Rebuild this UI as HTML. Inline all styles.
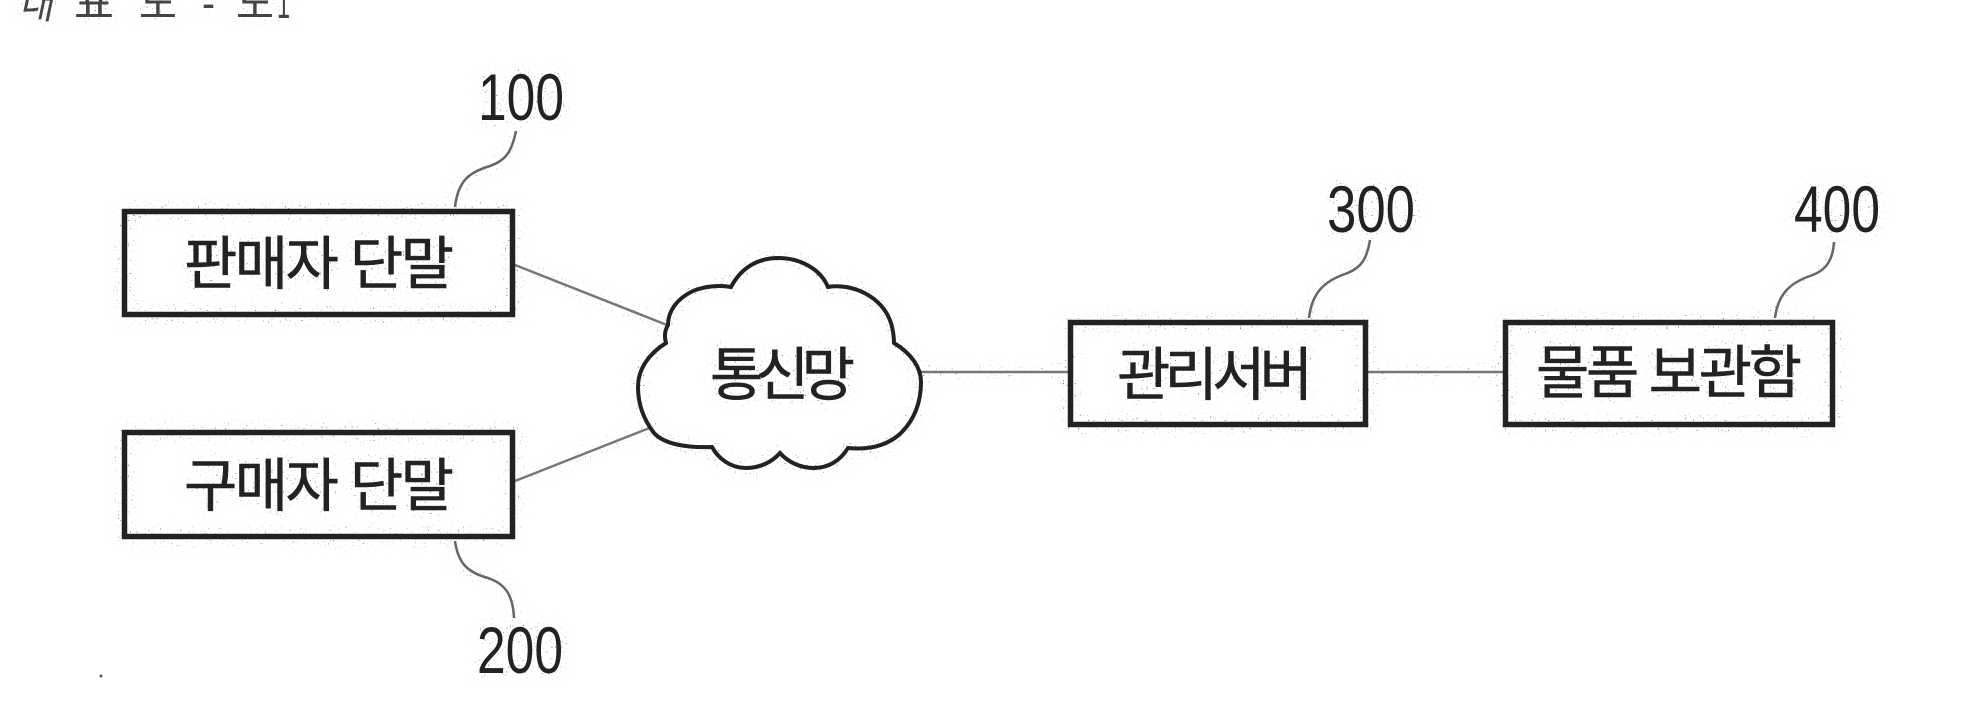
<!DOCTYPE html>
<html lang="ko">
<head>
<meta charset="utf-8">
<style>
html,body{margin:0;padding:0;background:#fff;width:1985px;height:711px;overflow:hidden}
svg{display:block}
.k{font-family:"Liberation Sans","Noto Sans CJK KR",sans-serif;font-size:58px;fill:#222;stroke:#222;stroke-width:.6px}
.t{font-family:"Liberation Sans","Noto Sans CJK KR",sans-serif;font-size:44px;fill:#444}
.n{font-family:"Liberation Sans",sans-serif;font-size:66px;fill:#222}
.b{fill:none;stroke:#222;stroke-width:5.500}
.l{fill:none;stroke:#777;stroke-width:2.500}
.h{fill:none;stroke:#666;stroke-width:2.500}
</style>
</head>
<body>
<svg width="1985" height="711" viewBox="0 0 1985 711" xmlns="http://www.w3.org/2000/svg">
<defs>
<filter id="sp" filterUnits="userSpaceOnUse" x="0" y="0" width="1985" height="711" color-interpolation-filters="sRGB">
<feGaussianBlur in="SourceAlpha" stdDeviation="6" result="bl"/>
<feComponentTransfer in="bl" result="halo"><feFuncA type="linear" slope="5"/></feComponentTransfer>
<feTurbulence type="fractalNoise" baseFrequency="0.6" numOctaves="1" seed="4" result="noise"/>
<feColorMatrix in="noise" type="matrix" values="0 0 0 0 .5  0 0 0 0 .5  0 0 0 0 .5  0 0 0 14 -9.500" result="dots"/>
<feComposite in="dots" in2="halo" operator="in" result="spk"/>
<feMerge><feMergeNode in="spk"/><feMergeNode in="SourceGraphic"/></feMerge>
</filter>
</defs>
<rect width="1985" height="711" fill="#fff"/>
<g filter="url(#sp)">
<text class="t" x="19" y="18" textLength="34" lengthAdjust="spacingAndGlyphs" style="font-style:italic">대</text>
<text class="t" x="74" y="18" textLength="40" lengthAdjust="spacingAndGlyphs">표</text>
<text class="t" x="139" y="18" textLength="38" lengthAdjust="spacingAndGlyphs">도</text>
<text class="t" x="202" y="18" textLength="13" lengthAdjust="spacingAndGlyphs">-</text>
<text class="t" x="236" y="18" textLength="38" lengthAdjust="spacingAndGlyphs">도</text>
<text class="t" x="277" y="18" textLength="13" lengthAdjust="spacingAndGlyphs">1</text>

<path class="h" d="M516 131C512 150 507 160 490 166C470 172 458 180 455 207"/>
<path class="h" d="M455 541C458 562 466 572 488 578C506 584 513 596 514 618"/>
<path class="h" d="M1370 240C1367 258 1362 268 1345 274C1325 281 1312 292 1309 318"/>
<path class="h" d="M1834 242C1833 258 1828 270 1810 276C1790 283 1778 294 1775 318"/>

<line class="l" x1="515" y1="265" x2="667" y2="325"/>
<line class="l" x1="515" y1="481" x2="652" y2="427"/>
<line class="l" x1="920" y1="372" x2="1068" y2="372"/>
<line class="l" x1="1367" y1="372" x2="1503" y2="372"/>

<rect class="b" x="124.500" y="211.500" width="388" height="103"/>
<rect class="b" x="124.500" y="432.500" width="388" height="104"/>
<rect class="b" x="1070.500" y="322.500" width="295" height="102"/>
<rect class="b" x="1505.500" y="322.500" width="327" height="102"/>

<path d="M731 287C742 266 760 258 778 258C799 258 820 268 828 287C852 283 882 296 891 323C893 330 894 337 894 343C912 354 921 368 921 382C921 404 913 421 901 433C887 446 868 450 848 448C840 461 828 468 814 468C800 468 788 462 780 453C772 462 760 468 746 468C730 468 718 458 712 447C686 448 664 444 654 433C644 420 638 404 638 387C638 368 650 353 666 343C664 336 665 330 668 325C668 312 676 299 693 291C705 286 720 285 731 287Z" fill="none" stroke="#222" stroke-width="4"/>

<text class="k" x="184" y="284" textLength="270" lengthAdjust="spacing">판매자 단말</text>
<text class="k" x="184" y="506" textLength="270" lengthAdjust="spacing">구매자 단말</text>
<text class="k" x="710" y="395" textLength="145" lengthAdjust="spacing">통신망</text>
<text class="k" x="1117" y="395" textLength="196" lengthAdjust="spacing">관리서버</text>
<text class="k" x="1536" y="393" textLength="266" lengthAdjust="spacing">물품 보관함</text>

<text class="n" x="478" y="120" textLength="86" lengthAdjust="spacingAndGlyphs">100</text>
<text class="n" x="477" y="673" textLength="86" lengthAdjust="spacingAndGlyphs">200</text>
<text class="n" x="1327" y="232" textLength="88" lengthAdjust="spacingAndGlyphs">300</text>
<text class="n" x="1794" y="232" textLength="86" lengthAdjust="spacingAndGlyphs">400</text>
</g>
<circle cx="101" cy="676" r="1.500" fill="#555"/>
</svg>
</body>
</html>
